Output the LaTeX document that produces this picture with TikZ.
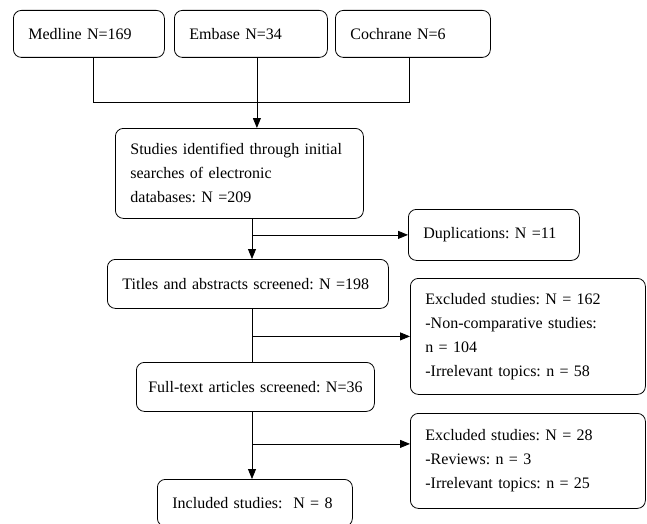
\documentclass[tikz,border=0pt]{standalone}
\usepackage{fontspec}
\setmainfont{Liberation Serif}
\usetikzlibrary{arrows.meta}

\def\spine{252}
\def\pad{15}

\tikzset{
    box/.style={draw,rounded corners=8pt,anchor=north west,inner xsep=\pad pt,
        inner ysep=0pt,align=left,font=\fontsize{16}{24}\selectfont\frenchspacing},
    link/.style={line width=0.8pt,black},
    arr/.style={link,-{Triangle[length=10pt,width=8pt]}}
}

\begin{document}
\begin{tikzpicture}[x=1pt,y=-1pt,line width=0.8pt]
    \clip (0,0) rectangle (647,524);
    % databases
    \node[box,text width=151pt-2*\pad pt,minimum height=47pt] (medline) at (13,10) {Medline N=169};
    \node[box,text width=153pt-2*\pad pt,minimum height=47pt] (embase) at (174,10) {Embase N=34};
    \node[box,text width=155pt-2*\pad pt,minimum height=47pt] (cochrane) at (335,10) {Cochrane N=6};
    % main column
    \node[box,text width=248pt-2*\pad pt,minimum height=90pt] (studies) at (115,128)
        {Studies identified through initial\\searches of electronic\\databases: N =209};
    \node[box,text width=281pt-2*\pad pt,minimum height=49pt] (titles) at (107,259)
        {Titles and abstracts screened: N =198};
    \node[box,inner xsep=11pt,text width=216pt,align=center,minimum height=49pt] (fulltext) at (136,362)
        {Full-text articles screened: N=36};
    \node[box,text width=195pt-2*\pad pt,minimum height=47pt] (included) at (157,479)
        {Included studies:~ N = 8};
    % exclusions
    \node[box,text width=171pt-2*\pad pt,minimum height=51pt] (dup) at (408,209)
        {Duplications: N =11};
    \node[box,text width=235pt-2*\pad pt,minimum height=116pt] (excla) at (410,278)
        {Excluded studies: N = 162\\-Non-comparative studies:\\n = 104\\-Irrelevant topics: n = 58};
    \node[box,text width=235pt-2*\pad pt,minimum height=95pt] (exclb) at (410,413)
        {Excluded studies: N = 28\\-Reviews: n = 3\\-Irrelevant topics: n = 25};

    \coordinate (join) at (257,102);
    \draw[link] ([xshift=4pt]medline.south) -- ([xshift=4pt]medline.south |- join)
        -- ([xshift=-4pt]cochrane.south |- join) -- ([xshift=-4pt]cochrane.south);
    \draw[arr] ([xshift=6pt]embase.south) -- ([xshift=6pt]embase.south |- studies.north);

    \draw[arr] (studies.south -| \spine,0) -- (titles.north -| \spine,0);
    \draw[arr] (dup.west -| \spine,0) -- (dup.west);
    \draw[link] (titles.south -| \spine,0) -- (fulltext.north -| \spine,0);
    \draw[arr] (excla.west -| \spine,0) -- (excla.west);
    \draw[arr] (fulltext.south -| \spine,0) -- (included.north -| \spine,0);
    \draw[arr] ([yshift=17pt]exclb.west -| \spine,0) -- ([yshift=17pt]exclb.west);
\end{tikzpicture}
\end{document}
